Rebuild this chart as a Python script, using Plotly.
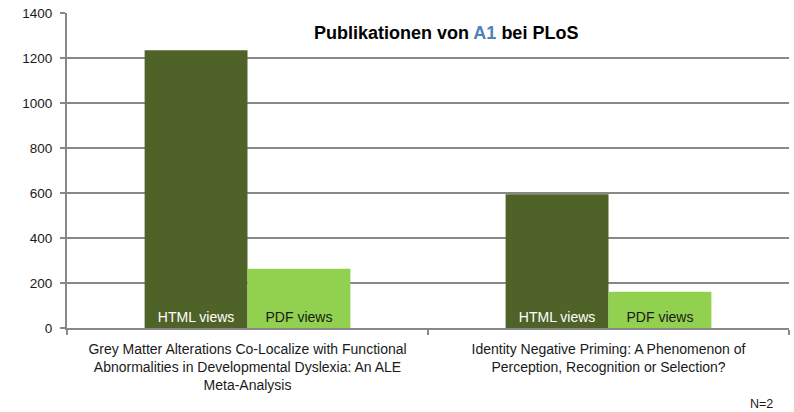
import plotly.graph_objects as go

categories = [
    "Grey Matter Alterations Co-Localize with Functional<br>Abnormalities in Developmental Dyslexia: An ALE<br>Meta-Analysis",
    "Identity Negative Priming: A Phenomenon of<br>Perception, Recognition or Selection?",
]
html_views = [1235, 594]
pdf_views = [263, 161]
series_names = ["HTML views", "PDF views"]
tick_vals = [0, 200, 400, 600, 800, 1000, 1200, 1400]

FONT = "Liberation Sans, Arial, sans-serif"
GRID = "#888888"

fig = go.Figure()
fig.add_trace(go.Bar(
    x=categories, y=html_views, name=series_names[0],
    marker=dict(color="#4F6228", line=dict(width=0)),
    text=[series_names[0]] * 2, textposition="inside", insidetextanchor="start",
    textfont=dict(color="white", size=14, family=FONT), textangle=0,
))
fig.add_trace(go.Bar(
    x=categories, y=pdf_views, name=series_names[1],
    marker=dict(color="#92D050", line=dict(width=0)),
    text=[series_names[1]] * 2, textposition="inside", insidetextanchor="start",
    textfont=dict(color="#1a1a1a", size=14, family=FONT), textangle=0,
))

fig.update_layout(
    width=794, height=412,
    margin=dict(l=67, r=5, t=13, b=84, autoexpand=False),
    paper_bgcolor="white", plot_bgcolor="white",
    barmode="group", bargap=0.43, bargroupgap=0,
    showlegend=False,
    font=dict(family=FONT, size=12, color="#1a1a1a"),
    uniformtext=dict(minsize=12, mode="show"),
)
fig.update_yaxes(
    range=[0, 1400], tickvals=tick_vals, showgrid=True, gridcolor=GRID, gridwidth=1.5,
    showline=True, linecolor=GRID, linewidth=2, ticks="outside", ticklen=5,
    tickcolor=GRID, tickwidth=1.5, tickfont=dict(size=13.5, color="#1a1a1a"), zeroline=False,
    automargin=False, ticklabelstandoff=5,
)
fig.update_xaxes(
    showline=True, linecolor=GRID, linewidth=2, ticks="outside", ticklen=5,
    tickcolor=GRID, tickwidth=1.5, tickson="boundaries", tickfont=dict(size=14, color="#1a1a1a"),
    automargin=False, ticklabelstandoff=7,
)
fig.add_annotation(
    text="<b>Publikationen von <span style='color:#4F81BD'>A1</span> bei PLoS</b>",
    xref="paper", yref="paper", x=0.525, y=0.935, showarrow=False,
    font=dict(size=18, color="black", family=FONT), xanchor="center", yanchor="middle",
)
fig.add_annotation(
    text="N=2", xref="paper", yref="paper", x=0.98, y=-0.241,
    showarrow=False, font=dict(size=12.5, color="#1a1a1a", family=FONT),
    xanchor="right", yanchor="middle",
)
fig.write_html("out.html", config={"displayModeBar": False},
               post_script="document.body.style.margin='0px';")
